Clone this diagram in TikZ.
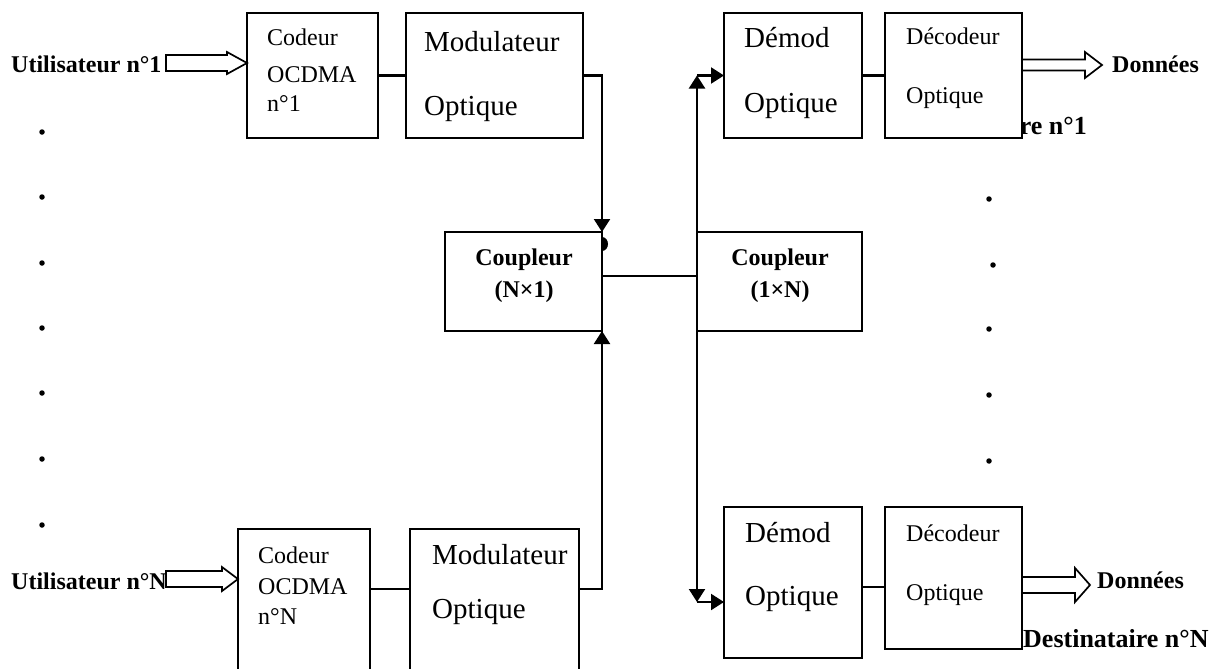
\documentclass[tikz,border=0pt]{standalone}
\usepackage{fontspec}
\setmainfont{Liberation Serif}
\usetikzlibrary{arrows.meta,calc}

\newcommand\szbig{\fontsize{29pt}{32pt}\selectfont}
\newcommand\szsmall{\fontsize{24pt}{27pt}\selectfont}
\newcommand\szlabel{\fontsize{24pt}{27pt}\selectfont\bfseries}
\newcommand\szdest{\fontsize{26pt}{29pt}\selectfont\bfseries}

% hollow block arrow: start, tip, body half-height, head half-height, head length
\newcommand\hollowarrow[5]{%
  \draw[hollow] let \p1=(#1), \p2=(#2) in
    (\x1,\y1+#3) -- (\x2-#5,\y1+#3) -- (\x2-#5,\y1+#4) -- (\x2,\y1)
    -- (\x2-#5,\y1-#4) -- (\x2-#5,\y1-#3) -- (\x1,\y1-#3) -- cycle;}

\begin{document}
\begin{tikzpicture}[x=1pt,y=-1pt,
  box/.style={draw, line width=2.2pt, fill=white, inner sep=0pt, outer sep=0pt},
  txt/.style={anchor=base west, inner sep=0pt},
  ctxt/.style={anchor=base, inner sep=0pt},
  wire/.style={line width=2.2pt},
  feed/.style={wire, -{Triangle[length=13pt,width=16pt]}},
  hollow/.style={line width=1.7pt, fill=white, line join=miter},
  dot/.style={circle, fill, inner sep=0pt, minimum size=5.5pt}]
\useasboundingbox (0,0) rectangle (1223,669);
\clip (0,0) rectangle (1223,669);

% receiver label partly covered by the decoder box
\node[txt, anchor=base east] (dest1) at (1087,134) {\szdest Destinataire n°1};

% ---- emitter side
\node[box, minimum width=131pt, minimum height=125pt] (cod1) at (312.5,75.5) {};
\node[box, minimum width=177pt, minimum height=125pt] (mod1) at (494.5,75.5) {};
\node[box, minimum width=132pt, minimum height=171pt] (codN) at (304,614.5) {};
\node[box, minimum width=169pt, minimum height=171pt] (modN) at (494.5,614.5) {};

\node[txt] (cod1a) at (267,46) {\szsmall Codeur};
\node[txt] (cod1b) at (267,82) {\szsmall OCDMA};
\node[txt] (cod1c) at (267,111) {\szsmall n°1};
\node[txt] (codNa) at (258,563) {\szsmall Codeur};
\node[txt] (codNb) at (258,594) {\szsmall OCDMA};
\node[txt] (codNc) at (258,624) {\szsmall n°N};
\node[txt] (mod1a) at (424,52) {\szbig Modulateur};
\node[txt] (mod1b) at (424,115) {\szbig Optique};
\node[txt] (modNa) at (432,564) {\szbig Modulateur};
\node[txt] (modNb) at (432,618) {\szbig Optique};

\node[txt] (u1) at (11,72) {\szlabel Utilisateur n°1};
\node[txt] (uN) at (11,589) {\szlabel Utilisateur n°N};

% ---- couplers
\node[box, minimum width=157pt, minimum height=99pt] (cpl1) at (523.5,281.5) {};
\node[box, minimum width=165pt, minimum height=99pt] (cpl2) at (779.5,281.5) {};
\node[ctxt] (cpl1a) at (524,265) {\szlabel Coupleur};
\node[ctxt] (cpl1b) at (524,297) {\szlabel (N×1)};
\node[ctxt] (cpl2a) at (780,265) {\szlabel Coupleur};
\node[ctxt] (cpl2b) at (780,297) {\szlabel (1×N)};

% ---- receiver side
\node[box, minimum width=138pt, minimum height=125pt] (dem1) at (793,75.5) {};
\node[box, minimum width=137pt, minimum height=125pt] (dec1) at (953.5,75.5) {};
\node[box, minimum width=138pt, minimum height=151pt] (demN) at (793,582.5) {};
\node[box, minimum width=137pt, minimum height=142pt] (decN) at (953.5,578) {};

\node[txt] (dem1a) at (744,48) {\szbig Démod};
\node[txt] (dem1b) at (744,112) {\szbig Optique};
\node[txt] (demNa) at (745,542) {\szbig Démod};
\node[txt] (demNb) at (745,605) {\szbig Optique};
\node[txt] (dec1a) at (906,45) {\szsmall Décodeur};
\node[txt] (dec1b) at (906,103) {\szsmall Optique};
\node[txt] (decNa) at (906,541) {\szsmall Décodeur};
\node[txt] (decNb) at (906,600) {\szsmall Optique};

\node[txt] (don1) at (1112,72) {\szlabel Données};
\node[txt] (donN) at (1097,588) {\szlabel Données};
\node[txt] (destN) at (1023,647) {\szdest Destinataire n°N};

% ---- ellipsis dots
\foreach \yy [count=\i] in {132,197,263,328,393,459,525}
  \node[dot] (ld\i) at (42,\yy) {};
\foreach \xx/\yy [count=\i] in {989/199,993/265,989/329,989/395,989/461}
  \node[dot] (rd\i) at (\xx,\yy) {};

% ---- bus levels
\coordinate (lowbus) at (0,589);
\coordinate (midbus) at (0,276);
\coordinate (rxbus) at (0,602);
\coordinate (rxlink) at (0,587);
\coordinate (in1) at (166,63);
\coordinate (inN) at (166,579);
\coordinate (out1) at (1022,65);
\coordinate (outN) at (1022,585);

% ---- connectors, emitter side
\draw[wire] (cod1) -- (mod1);
\draw[wire] (codN.east |- lowbus) -- (modN.west |- lowbus);
\draw[feed] (mod1.east) -| (cpl1.north east);
\draw[feed] (modN.east |- lowbus) -| (cpl1.south east);
\draw[wire] (cpl1.east |- midbus) -- (cpl2.west |- midbus);
% crossing mark on the coupler edge
\fill (602,251) arc[start angle=-90, end angle=90, x radius=6pt, y radius=7pt] -- cycle;

% ---- connectors, receiver side
\draw[feed] (cpl2.north west) -- (cpl2.west |- dem1.west);
\draw[feed] (cpl2.west |- dem1.west) -- (dem1.west);
\draw[feed] (cpl2.south west) -- (cpl2.west |- rxbus);
\draw[feed] (cpl2.west |- rxbus) -- (demN.west |- rxbus);
\draw[wire] (dem1) -- (dec1);
\draw[wire] (demN.east |- rxlink) -- (decN.west |- rxlink);

% ---- hollow data arrows
\hollowarrow{in1}{cod1.west |- in1}{8pt}{11pt}{20pt}
\hollowarrow{inN}{codN.west |- inN}{8pt}{12pt}{16pt}
\hollowarrow{out1}{1102,65}{5.5pt}{13pt}{17pt}
\hollowarrow{outN}{1090,585}{8pt}{17pt}{15pt}
\end{tikzpicture}
\end{document}
